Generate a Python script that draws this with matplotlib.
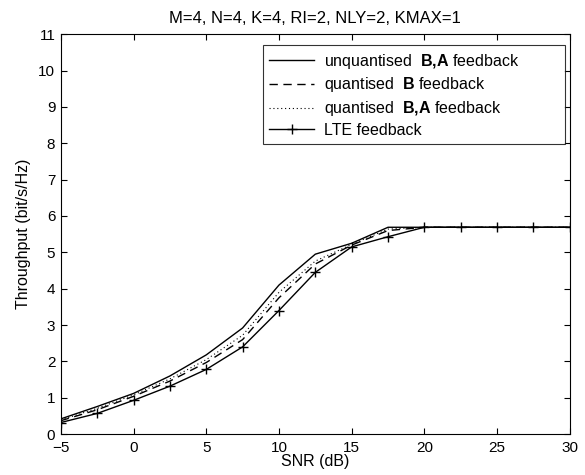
import matplotlib
matplotlib.use("Agg")
import matplotlib.pyplot as plt

plt.rcParams["font.family"] = ["Liberation Sans", "DejaVu Sans"]
plt.rcParams["mathtext.fontset"] = "custom"
plt.rcParams["mathtext.bf"] = "Liberation Sans:bold"
plt.rcParams["mathtext.rm"] = "Liberation Sans"

snr = [-5, -2.5, 0, 2.5, 5, 7.5, 10, 12.5, 15, 17.5, 20, 22.5, 25, 27.5, 30]
unquant_ba = [0.42, 0.76, 1.12, 1.6, 2.18, 2.92, 4.1, 4.95, 5.25, 5.69, 5.69, 5.69, 5.69, 5.69, 5.69]
quant_b = [0.37, 0.67, 1.04, 1.46, 1.97, 2.6, 3.75, 4.68, 5.2, 5.6, 5.69, 5.69, 5.69, 5.69, 5.69]
quant_ba = [0.39, 0.71, 1.08, 1.52, 2.05, 2.72, 3.9, 4.76, 5.22, 5.64, 5.69, 5.69, 5.69, 5.69, 5.69]
lte = [0.32, 0.57, 0.93, 1.32, 1.78, 2.4, 3.4, 4.45, 5.15, 5.43, 5.69, 5.69, 5.69, 5.69, 5.69]

fig = plt.figure(figsize=(5.85, 4.75), dpi=100)
ax = fig.add_axes([0.104, 0.086, 0.87, 0.842])

ax.plot(snr, unquant_ba, color="black", lw=1.0, label=r"unquantised  $\mathbf{B{,}A}$ feedback")
ax.plot(snr, quant_b, color="black", lw=1.0, linestyle=(0, (6, 4)), label=r"quantised  $\mathbf{B}$ feedback")
ax.plot(snr, quant_ba, color="black", lw=0.8, linestyle=(0, (1, 2.5)), label=r"quantised  $\mathbf{B{,}A}$ feedback")
ax.plot(snr, lte, color="black", lw=1.0, marker="+", markersize=7, markeredgewidth=1.0, label="LTE feedback")

ax.set_xlim(-5, 30)
ax.set_ylim(0, 11)
ax.set_xticks(range(-5, 31, 5))
ax.set_yticks(range(0, 12))
ax.tick_params(direction="in", top=True, right=True, labelsize=11, length=4)
ax.tick_params(axis="x", pad=5)
ax.tick_params(axis="y", pad=4)
ax.set_xticklabels(["\u22125"] + [str(v) for v in range(0, 31, 5)])
ax.set_xlabel("SNR (dB)", fontsize=11.5, labelpad=-1)
ax.set_ylabel("Throughput (bit/s/Hz)", fontsize=11.5, labelpad=5)
ax.set_title("M=4, N=4, K=4, RI=2, NLY=2, KMAX=1", fontsize=12, pad=8)

leg = ax.legend(loc="upper left", fontsize=11.5, frameon=True, fancybox=False,
                edgecolor="black", handlelength=2.8, borderpad=0.4, labelspacing=0.3,
                handletextpad=0.6, borderaxespad=0, mode="expand",
                bbox_to_anchor=(0.397, 0.0, 0.593, 0.9725))
leg.get_frame().set_linewidth(0.8)

fig.savefig("out.png", dpi=100)
